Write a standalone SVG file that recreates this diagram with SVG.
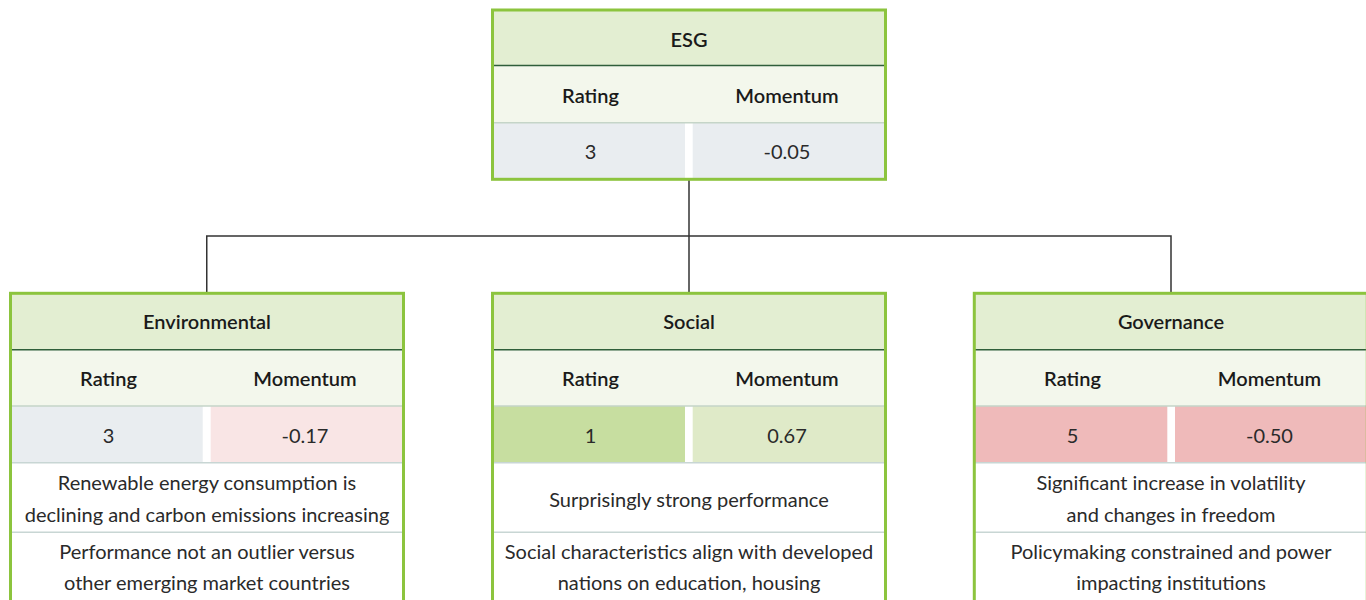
<svg xmlns="http://www.w3.org/2000/svg" width="1366" height="600" viewBox="0 0 1366 600">
<style>
  text { font-family: Lato, "Open Sans", "Liberation Sans", sans-serif; text-anchor: middle; dominant-baseline: central; }
  .title { font-size: 20px; font-weight: 600; fill: #1a1a1a; }
  .hd { font-size: 20px; font-weight: 600; fill: #1a1a1a; }
  .val { font-size: 20px; font-weight: 400; fill: #2a2a2a; }
  .body { font-size: 20px; font-weight: 400; fill: #2a2a2a; }
  .head { fill: #e3eed2; }
  .sub { fill: #f3f7ec; }
  .grey { fill: #e9edf0; }
  .pinkL { fill: #f9e5e5; }
  .pinkD { fill: #efbaba; }
  .greenD { fill: #c7dea0; }
  .greenL { fill: #dfeac8; }
  .hline { stroke: #2f5e3a; stroke-width: 1.5; }
  .sline { stroke: #c5d5c8; stroke-width: 1.5; }
  .tline { stroke: #c8d6d4; stroke-width: 1.5; }
  .frame { fill: none; stroke: #8cc43e; stroke-width: 3; }
  .conn { fill: none; stroke: #333333; stroke-width: 1.5; }
</style>

<g id="connectors">
  <path class="conn" d="M689,180 V293"/>
  <path class="conn" d="M206.75,293 V236 H1171 V293"/>
</g>

<g id="esg">
  <rect class="head" x="492.5" y="10" width="393" height="55.5"/>
  <rect class="sub" x="492.5" y="65.5" width="393" height="57.2"/>
  <rect class="grey" x="492.5" y="122.7" width="192.5" height="56.6"/>
  <rect class="grey" x="692.7" y="122.7" width="192.8" height="56.6"/>
  <line class="hline" x1="492.5" y1="65.5" x2="885.5" y2="65.5"/>
  <line class="sline" x1="492.5" y1="122.7" x2="885.5" y2="122.7"/>
  <rect class="frame" x="492.5" y="10" width="393" height="169.3"/>
  <text class="title" x="689" y="39">ESG</text>
  <text class="hd" x="590.5" y="95">Rating</text>
  <text class="hd" x="787" y="95">Momentum</text>
  <text class="val" x="590.5" y="151">3</text>
  <text class="val" x="787" y="151">-0.05</text>
</g>

<g id="environmental">
  <rect x="10.5" y="293.3" width="393" height="320" fill="#ffffff"/>
  <rect class="head" x="10.5" y="293.3" width="393" height="56.4"/>
  <rect class="sub" x="10.5" y="349.7" width="393" height="56.3"/>
  <rect class="grey" x="10.5" y="406" width="192.2" height="56.7"/>
  <rect class="pinkL" x="210.7" y="406" width="192.8" height="56.7"/>
  <line class="hline" x1="10.5" y1="349.7" x2="403.5" y2="349.7"/>
  <line class="sline" x1="10.5" y1="406" x2="403.5" y2="406"/>
  <line class="tline" x1="10.5" y1="462.7" x2="403.5" y2="462.7"/>
  <line class="tline" x1="10.5" y1="532.3" x2="403.5" y2="532.3"/>
  <rect class="frame" x="10.5" y="293.3" width="393" height="320"/>
  <text class="title" x="207" y="320.7">Environmental</text>
  <text class="hd" x="108.5" y="378">Rating</text>
  <text class="hd" x="305" y="378">Momentum</text>
  <text class="val" x="108.5" y="434.7">3</text>
  <text class="val" x="305" y="434.7">-0.17</text>
  <text class="body" x="207" y="482.3">Renewable energy consumption is</text>
  <text class="body" x="207" y="514">declining and carbon emissions increasing</text>
  <text class="body" x="207" y="550.7">Performance not an outlier versus</text>
  <text class="body" x="207" y="582.3">other emerging market countries</text>
</g>

<g id="social">
  <rect x="492.5" y="293.3" width="393" height="320" fill="#ffffff"/>
  <rect class="head" x="492.5" y="293.3" width="393" height="56.4"/>
  <rect class="sub" x="492.5" y="349.7" width="393" height="56.3"/>
  <rect class="greenD" x="492.5" y="406" width="192.5" height="56.7"/>
  <rect class="greenL" x="692.7" y="406" width="192.8" height="56.7"/>
  <line class="hline" x1="492.5" y1="349.7" x2="885.5" y2="349.7"/>
  <line class="sline" x1="492.5" y1="406" x2="885.5" y2="406"/>
  <line class="tline" x1="492.5" y1="462.7" x2="885.5" y2="462.7"/>
  <line class="tline" x1="492.5" y1="532.3" x2="885.5" y2="532.3"/>
  <rect class="frame" x="492.5" y="293.3" width="393" height="320"/>
  <text class="title" x="689" y="320.7">Social</text>
  <text class="hd" x="590.5" y="378">Rating</text>
  <text class="hd" x="787" y="378">Momentum</text>
  <text class="val" x="590.5" y="434.7">1</text>
  <text class="val" x="787" y="434.7">0.67</text>
  <text class="body" x="689" y="498.5">Surprisingly strong performance</text>
  <text class="body" x="689" y="550.7">Social characteristics align with developed</text>
  <text class="body" x="689" y="582.3">nations on education, housing</text>
</g>

<g id="governance">
  <rect x="974.3" y="293.3" width="393" height="320" fill="#ffffff"/>
  <rect class="head" x="974.3" y="293.3" width="393" height="56.4"/>
  <rect class="sub" x="974.3" y="349.7" width="393" height="56.3"/>
  <rect class="pinkD" x="974.3" y="406" width="193" height="56.7"/>
  <rect class="pinkD" x="1175" y="406" width="192.3" height="56.7"/>
  <line class="hline" x1="974.3" y1="349.7" x2="1367.3" y2="349.7"/>
  <line class="sline" x1="974.3" y1="406" x2="1367.3" y2="406"/>
  <line class="tline" x1="974.3" y1="462.7" x2="1367.3" y2="462.7"/>
  <line class="tline" x1="974.3" y1="532.3" x2="1367.3" y2="532.3"/>
  <rect class="frame" x="974.3" y="293.3" width="393" height="320"/>
  <text class="title" x="1171" y="320.7">Governance</text>
  <text class="hd" x="1072.5" y="378">Rating</text>
  <text class="hd" x="1269.5" y="378">Momentum</text>
  <text class="val" x="1072.5" y="434.7">5</text>
  <text class="val" x="1269.5" y="434.7">-0.50</text>
  <text class="body" x="1171" y="482.3">Significant increase in volatility</text>
  <text class="body" x="1171" y="514">and changes in freedom</text>
  <text class="body" x="1171" y="550.7">Policymaking constrained and power</text>
  <text class="body" x="1171" y="582.3">impacting institutions</text>
</g>
</svg>
